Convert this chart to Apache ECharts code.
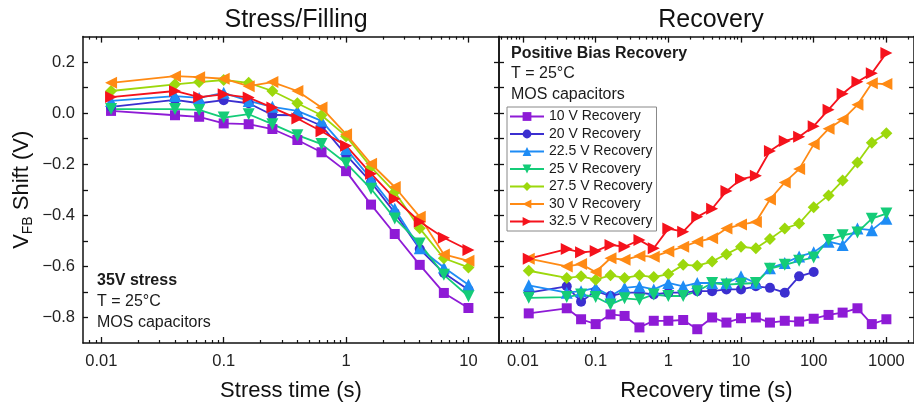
<!DOCTYPE html>
<html>
<head>
<meta charset="utf-8">
<script src="https://cdn.jsdelivr.net/npm/echarts@6/dist/echarts.min.js"></script>
<style>
html,body{margin:0;padding:0;background:#fff;}
#chart{width:914px;height:407px;}
</style>
</head>
<body>
<div id="chart"></div>
<script>
// ---------------- data ----------------
const seriesNames = ['10 V Recovery', '20 V Recovery', '22.5 V Recovery', '25 V Recovery', '27.5 V Recovery', '30 V Recovery', '32.5 V Recovery'];

const stressTime = [0.012, 0.04, 0.063, 0.1, 0.16, 0.25, 0.4, 0.63, 1, 1.6, 2.5, 4, 6.3, 10];
const stress10   = [0.009, -0.008, -0.014, -0.040, -0.043, -0.062, -0.105, -0.153, -0.227, -0.358, -0.473, -0.594, -0.704, -0.763];
const stress20   = [0.025, 0.052, 0.039, 0.051, 0.039, -0.007, -0.008, -0.049, -0.163, -0.270, -0.390, -0.532, -0.626, -0.691];
const stress22_5 = [0.048, 0.067, 0.060, 0.080, 0.048, 0.025, 0.009, -0.030, -0.140, -0.257, -0.374, -0.529, -0.604, -0.672];
const stress25   = [0.016, 0.016, 0.013, -0.017, -0.004, -0.043, -0.086, -0.121, -0.196, -0.296, -0.412, -0.510, -0.633, -0.717];
const stress27_5 = [0.087, 0.113, 0.122, 0.130, 0.119, 0.087, 0.039, -0.008, -0.090, -0.211, -0.309, -0.451, -0.568, -0.604];
const stress30   = [0.119, 0.145, 0.141, 0.135, 0.106, 0.122, 0.087, 0.022, -0.082, -0.198, -0.289, -0.406, -0.553, -0.578];
const stress32_5 = [0.063, 0.087, 0.063, 0.074, 0.061, 0.022, -0.021, -0.071, -0.127, -0.237, -0.335, -0.425, -0.488, -0.536];

const recoveryTime = [0.012, 0.04, 0.063, 0.1, 0.16, 0.25, 0.4, 0.63, 1, 1.6, 2.5, 4, 6.3, 10, 16, 25, 40, 63, 100, 160, 250, 400, 630, 1000];
const rec10   = [-0.784, -0.764, -0.807, -0.826, -0.788, -0.794, -0.839, -0.813, -0.813, -0.810, -0.846, -0.800, -0.820, -0.803, -0.800, -0.820, -0.813, -0.816, -0.805, -0.790, -0.781, -0.764, -0.826, -0.807];
const rec20   = [-0.703, -0.678, -0.738, -0.697, -0.716, -0.703, -0.703, -0.710, -0.703, -0.703, -0.697, -0.697, -0.690, -0.690, -0.678, -0.684, -0.703, -0.639, -0.622];
const rec22_5 = [-0.674, -0.703, -0.697, -0.684, -0.716, -0.684, -0.678, -0.690, -0.665, -0.678, -0.665, -0.665, -0.665, -0.639, -0.665, -0.607, -0.587, -0.561, -0.545, -0.503, -0.516, -0.452, -0.458, -0.413];
const rec25   = [-0.723, -0.720, -0.710, -0.720, -0.749, -0.725, -0.730, -0.710, -0.716, -0.716, -0.697, -0.665, -0.671, -0.668, -0.665, -0.609, -0.594, -0.578, -0.565, -0.497, -0.478, -0.467, -0.413, -0.393];
const rec27_5 = [-0.617, -0.645, -0.639, -0.652, -0.635, -0.645, -0.635, -0.642, -0.630, -0.594, -0.597, -0.581, -0.552, -0.523, -0.529, -0.493, -0.452, -0.432, -0.368, -0.322, -0.264, -0.193, -0.116, -0.079];
const rec30   = [-0.570, -0.600, -0.591, -0.622, -0.568, -0.574, -0.559, -0.562, -0.542, -0.523, -0.503, -0.490, -0.452, -0.436, -0.426, -0.338, -0.271, -0.219, -0.122, -0.061, -0.025, 0.033, 0.117, 0.114];
const rec32_5 = [-0.570, -0.532, -0.545, -0.540, -0.516, -0.523, -0.497, -0.529, -0.452, -0.464, -0.406, -0.374, -0.305, -0.258, -0.245, -0.148, -0.109, -0.092, -0.051, 0.014, 0.076, 0.123, 0.156, 0.236];

const stressTickLabels = ['0.01', '0.1', '1', '10'];
const recoveryTickLabels = ['0.01', '0.1', '1', '10', '100', '1000'];
const yTickValues = [0.2, 0.0, -0.2, -0.4, -0.6, -0.8];

// ---------------- styling ----------------
const FONT = "'Liberation Sans', Arial, sans-serif";
const colors = ['#8E1BD6', '#3B2FD0', '#1E8CF5', '#14CC78', '#9CD80C', '#FF8A14', '#F5121C'];
const symbols = ['rect', 'circle', 'triangle', 'triangle', 'diamond', 'triangle', 'triangle'];
const rotations = [0, 0, 0, 180, 0, 90, -90];
const symSizes = [10, 10, 12, 12, 12, 12, 12];

const stressSets = [stress10, stress20, stress22_5, stress25, stress27_5, stress30, stress32_5];
const recSets = [rec10, rec20, rec22_5, rec25, rec27_5, rec30, rec32_5];

const ranges = [[-2.15, 1.25], [-2.33, 3.38]];
const tickLabelSets = [stressTickLabels, recoveryTickLabels];

function minorLogTicks(r) {
  const out = [];
  for (let d = Math.floor(r[0]); d <= Math.ceil(r[1]); d++) {
    for (let k = 2; k <= 9; k++) {
      const v = d + Math.log10(k);
      if (v > r[0] && v < r[1]) out.push(v);
    }
  }
  return out;
}

const xAxes = [];
const names = ['Stress time (s)', 'Recovery time (s)'];
[0, 1].forEach(gi => {
  const r = ranges[gi];
  const labels = tickLabelSets[gi];
  const majors = labels.map(s => Math.log10(parseFloat(s)));
  const minors = minorLogTicks(r);
  ['bottom', 'top'].forEach(pos => {
    xAxes.push({
      type: 'value', gridIndex: gi, position: pos, min: r[0], max: r[1],
      name: pos === 'bottom' ? names[gi] : '', nameLocation: 'middle', nameGap: 37,
      nameTextStyle: { fontFamily: FONT, fontSize: 22, color: '#111' },
      axisLine: { show: true, onZero: false, lineStyle: { color: '#111', width: 1.5 } },
      axisTick: { show: true, inside: true, length: 6, customValues: majors, lineStyle: { color: '#111', width: 1.3 } },
      axisLabel: {
        show: pos === 'bottom', customValues: majors, margin: 10,
        fontFamily: FONT, fontSize: 16.5, color: '#222',
        formatter: v => { const i = majors.findIndex(m => Math.abs(m - v) < 1e-6); return i >= 0 ? labels[i] : ''; }
      },
      splitLine: { show: false }
    });
    xAxes.push({
      type: 'value', gridIndex: gi, position: pos, min: r[0], max: r[1],
      axisLine: { show: false, onZero: false },
      axisTick: { show: true, inside: true, length: 3, customValues: minors, lineStyle: { color: '#111', width: 1.2 } },
      axisLabel: { show: false },
      splitLine: { show: false }
    });
  });
});

const yTickAll = [];
for (let k = -8; k <= 2; k++) yTickAll.push(k / 10);

const yAxes = [];
[0, 1].forEach(gi => {
  ['left', 'right'].forEach(pos => {
    const withLabel = gi === 0 && pos === 'left';
    yAxes.push({
      type: 'value', gridIndex: gi, position: pos, min: -0.9, max: 0.3,
      name: withLabel ? '{v|V}{sub|FB}{v| Shift (V)}' : '',
      nameLocation: 'middle', nameGap: 50, nameRotate: 90,
      nameTextStyle: {
        fontFamily: FONT, color: '#111',
        rich: {
          v: { fontFamily: FONT, fontSize: 22, color: '#111', lineHeight: 26, verticalAlign: 'bottom' },
          sub: { fontFamily: FONT, fontSize: 14, color: '#111', lineHeight: 14, verticalAlign: 'bottom', padding: [0, 0, -2, 0] }
        }
      },
      axisLine: { show: true, onZero: false, lineStyle: { color: '#111', width: 1.5 } },
      axisTick: { show: true, inside: true, length: 5, customValues: yTickAll, lineStyle: { color: '#111', width: 1.3 } },
      axisLabel: {
        show: withLabel, customValues: yTickValues, margin: 8,
        fontFamily: FONT, fontSize: 16.5, color: '#222',
        formatter: v => (v < -1e-9 ? '\u2212' : '') + Math.abs(v).toFixed(1)
      },
      splitLine: { show: false }
    });
  });
});

const series = [];
stressSets.forEach((vals, i) => {
  series.push({
    type: 'line', name: seriesNames[i] + ' (stress)', xAxisIndex: 0, yAxisIndex: 0,
    data: stressTime.map((t, j) => [Math.log10(t), vals[j]]),
    symbol: symbols[i], symbolRotate: rotations[i], symbolSize: symSizes[i],
    lineStyle: { color: colors[i], width: 1.8 }, itemStyle: { color: colors[i] },
    clip: false, animation: false
  });
});
recSets.forEach((vals, i) => {
  series.push({
    type: 'line', name: seriesNames[i], xAxisIndex: 4, yAxisIndex: 2,
    data: vals.map((v, j) => [Math.log10(recoveryTime[j]), v]),
    symbol: symbols[i], symbolRotate: rotations[i], symbolSize: symSizes[i],
    lineStyle: { color: colors[i], width: 1.8 }, itemStyle: { color: colors[i] },
    clip: false, animation: false
  });
});

function txt(x, y, s, bold) {
  return { type: 'text', left: x, top: y, style: { text: s, fontFamily: FONT, fontSize: 16, fontWeight: bold ? 'bold' : 'normal', fill: '#1a1a1a' } };
}

const option = {
  animation: false,
  backgroundColor: '#fff',
  title: [
    { text: 'Stress/Filling', left: 291, top: 3, textAlign: 'center', textStyle: { fontFamily: FONT, fontSize: 25, fontWeight: 'normal', color: '#111' } },
    { text: 'Recovery', left: 706, top: 3, textAlign: 'center', textStyle: { fontFamily: FONT, fontSize: 25, fontWeight: 'normal', color: '#111' } }
  ],
  grid: [
    { left: 83, right: 415, top: 36.6, bottom: 62 },
    { left: 499, right: -2, top: 36.6, bottom: 62 }
  ],
  legend: {
    data: seriesNames, orient: 'vertical', left: 507, top: 107,
    itemWidth: 34, itemHeight: 11, itemGap: 2.5,
    borderColor: '#888', borderWidth: 1, padding: [2, 4, 2, 2],
    textStyle: { fontFamily: FONT, fontSize: 14, color: '#1a1a1a', lineHeight: 15 },
    symbolRotate: 'inherit'
  },
  xAxis: xAxes,
  yAxis: yAxes,
  series: series,
  graphic: [
    txt(97, 273, '35V stress', true),
    txt(97, 294, 'T = 25°C', false),
    txt(97, 315, 'MOS capacitors', false),
    txt(511, 46, 'Positive Bias Recovery', true),
    txt(511, 66, 'T = 25°C', false),
    txt(511, 87, 'MOS capacitors', false)
  ]
};

const chart = echarts.init(document.getElementById('chart'), null, { renderer: 'canvas' });
chart.setOption(option);
</script>
</body>
</html>
